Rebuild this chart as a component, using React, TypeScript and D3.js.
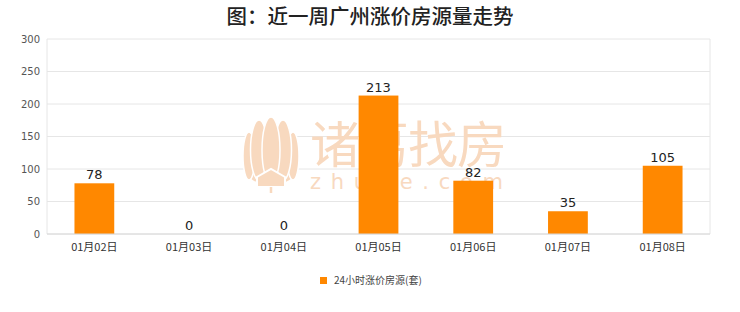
import React from "react";
import * as d3 from "d3";

const categories = ["01月02日", "01月03日", "01月04日", "01月05日", "01月06日", "01月07日", "01月08日"];
const values = [78, 0, 0, 213, 82, 35, 105];
const yTicks = [0, 50, 100, 150, 200, 250, 300];
const title = "图：近一周广州涨价房源量走势";
const seriesName = "24小时涨价房源(套)";

export default function App() {
  const W = 740, H = 312;
  const left = 47, right = 710, top = 39, bottom = 234;
  const x = d3.scaleBand<string>().domain(categories).range([left, right]).paddingInner(0.58).paddingOuter(0.29);
  const y = d3.scaleLinear().domain([0, 300]).range([bottom, top]);
  const wm = "#f8d9bf";
  const cx = 271;
  return (
    <svg width={W} height={H} style={{ position: "absolute", left: 0, top: 0, background: "#fff" }}>
      <rect width={W} height={H} fill="#fff" />
      <text x={370} y={24} textAnchor="middle" fontSize={20.5} fontWeight={500} fill="#222" fontFamily="'Noto Sans CJK SC', sans-serif">{title}</text>
      {yTicks.map(t => (
        <g key={t}>
          <line x1={left} x2={right} y1={y(t)} y2={y(t)} stroke="#e6e6e6" strokeWidth={1} />
          <text x={40} y={y(t) + 3.5} textAnchor="end" fontSize={10} fill="#555" fontFamily="'DejaVu Sans', sans-serif">{t}</text>
        </g>
      ))}
      <line x1={left} x2={left} y1={top} y2={bottom} stroke="#e6e6e6" />
      <line x1={right} x2={right} y1={top} y2={bottom} stroke="#e6e6e6" />
      {/* watermark */}
      <g>
        <ellipse cx={cx} cy={168} rx={26} ry={17} fill={wm} />
        <ellipse cx={cx - 22} cy={156} rx={6} ry={24} fill={wm} stroke="#fff" strokeWidth={1.5} />
        <ellipse cx={cx + 22} cy={156} rx={6} ry={24} fill={wm} stroke="#fff" strokeWidth={1.5} />
        <ellipse cx={cx - 12} cy={150} rx={8.5} ry={30} fill={wm} stroke="#fff" strokeWidth={1.5} />
        <ellipse cx={cx + 12} cy={150} rx={8.5} ry={30} fill={wm} stroke="#fff" strokeWidth={1.5} />
        <ellipse cx={cx} cy={150} rx={9} ry={33} fill={wm} stroke="#fff" strokeWidth={1.5} />
        <path d={`M${cx - 14},187 L${cx - 14},177 L${cx},169 L${cx + 14},177 L${cx + 14},187 Z`} fill={wm} stroke="#fff" strokeWidth={2} />
        <line x1={cx} x2={cx} y1={187} y2={193} stroke={wm} strokeWidth={2.5} />
        <text x={310} y={163} fontSize={50} fill={wm} fontFamily="'Noto Sans CJK SC', sans-serif" letterSpacing={-1}>诸葛找房</text>
        <text x={310} y={189} fontSize={21} fill={wm} fontFamily="'DejaVu Sans', sans-serif" textLength={193} lengthAdjust="spacing">zhuge.com</text>
      </g>
      {values.map((v, i) => (
        <g key={categories[i]}>
          <rect x={x(categories[i])!} y={y(v)} width={x.bandwidth()} height={bottom - y(v)} fill="#ff8800" />
          <text x={x(categories[i])! + x.bandwidth() / 2} y={y(v) - 4} textAnchor="middle" fontSize={13} fill="#222" fontFamily="'DejaVu Sans', sans-serif">{v}</text>
        </g>
      ))}
      <line x1={left} x2={right} y1={bottom} y2={bottom} stroke="#d8d8d8" />
      {categories.map(c => (
        <text key={c} x={x(c)! + x.bandwidth() / 2} y={251} textAnchor="middle" fontSize={11} fill="#333" fontFamily="'Noto Sans CJK SC', serif">{c}</text>
      ))}
      <rect x={320} y={277} width={7} height={7} fill="#ff8800" />
      <text x={334} y={284} fontSize={10} fill="#444" fontFamily="'Noto Sans CJK SC', serif">{seriesName}</text>
    </svg>
  );
}
